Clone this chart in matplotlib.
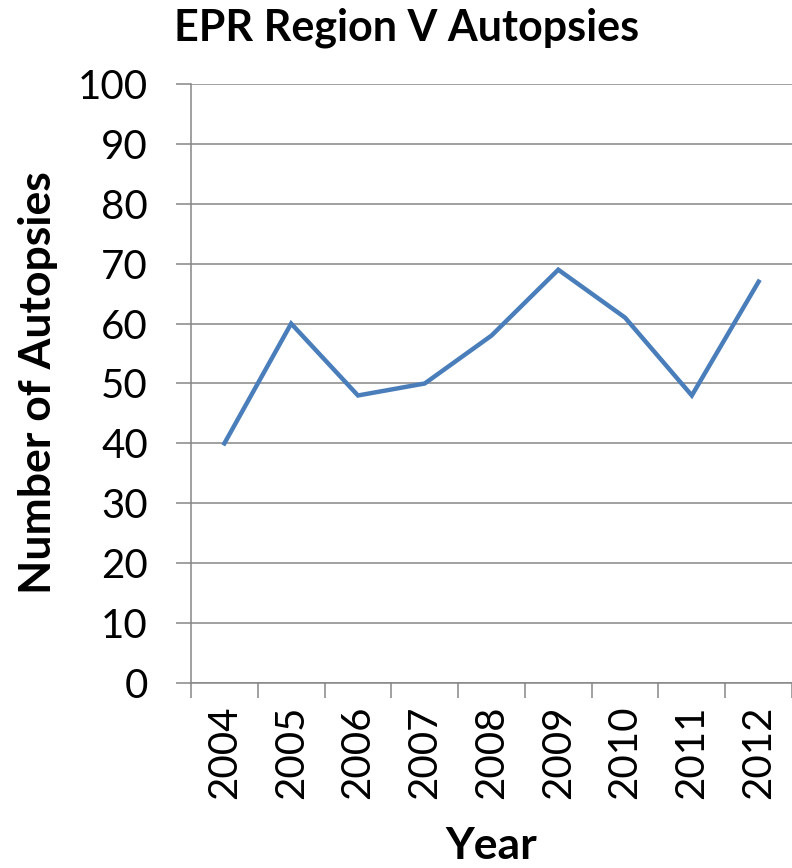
import matplotlib.pyplot as plt
from matplotlib.ticker import MultipleLocator, FixedLocator

years = ["2004", "2005", "2006", "2007", "2008", "2009", "2010", "2011", "2012"]
autopsies = [40, 60, 48, 50, 58, 69, 61, 48, 67]

grid_col = "#868686"
line_col = "#4A7EBB"

plt.rcParams['font.family'] = ['Lato', 'DejaVu Sans']

fig = plt.figure(figsize=(7.92, 8.68), dpi=100)
ax = fig.add_axes([191 / 792, 1 - 683 / 868, 601 / 792, (683 - 84) / 868])

x = list(range(len(years)))
ax.plot(x, autopsies, color=line_col, linewidth=3.2, solid_joinstyle='miter')

ax.set_xlim(-0.5, len(years) - 0.5)
ax.set_ylim(0, 100)
ax.yaxis.set_major_locator(MultipleLocator(10))
ax.grid(axis='y', color=grid_col, linewidth=1.1)
ax.set_axisbelow(True)

ax.set_xticks(x)
ax.set_xticklabels(years, rotation=90)
ax.xaxis.set_minor_locator(FixedLocator([i - 0.5 for i in range(len(years) + 1)]))
ax.tick_params(axis='x', which='major', length=0, pad=16, labelsize=29)
ax.tick_params(axis='x', which='minor', length=11, width=1.1, color=grid_col)
ax.tick_params(axis='y', length=11, width=1.1, color=grid_col, pad=20, labelsize=29)

for s in ['top', 'right']:
    ax.spines[s].set_visible(False)
for s in ['left', 'bottom']:
    ax.spines[s].set_color(grid_col)
    ax.spines[s].set_linewidth(1.1)

fig.text(407 / 792, 1 - 28 / 868, "EPR Region V Autopsies", fontsize=31,
         fontweight='bold', ha='center', va='center')
fig.text(38 / 792, 1 - 383 / 868, "Number of Autopsies", fontsize=32,
         fontweight='bold', ha='center', va='center', rotation=90)
fig.text(491 / 792, 1 - 846 / 868, "Year", fontsize=32,
         fontweight='bold', ha='center', va='center')

fig.savefig("out.png", dpi=100)
